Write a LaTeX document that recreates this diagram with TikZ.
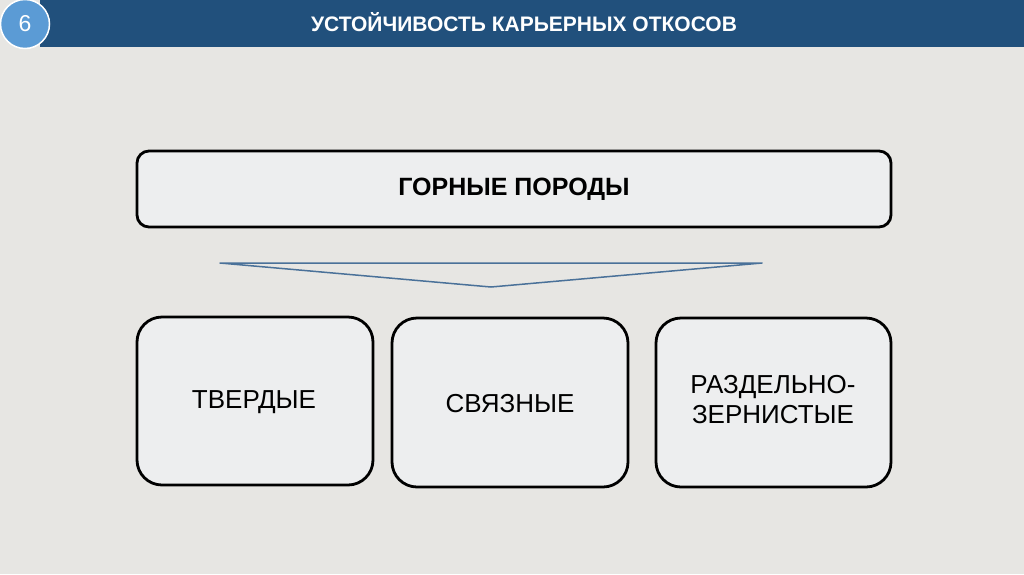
\documentclass[tikz,border=0pt]{standalone}
\usepackage{fontspec}
\setmainfont{Liberation Sans}
\definecolor{bg}{HTML}{E7E6E3}
\definecolor{hdr}{HTML}{21507C}
\definecolor{circ}{HTML}{5B9BD5}
\definecolor{boxfill}{HTML}{EDEEEF}
\definecolor{tri}{HTML}{4A7199}
\tikzset{
  rbox/.style={draw=black, line width=2.8pt, fill=boxfill, rounded corners=#1},
  lbl/.style={text=black, align=center, font=\fontsize{26}{30}\selectfont},
}
\begin{document}
\begin{tikzpicture}[x=1pt,y=-1pt]
\useasboundingbox (0,0) rectangle (1024,574);
\fill[bg] (0,0) rectangle (1024,574);
% header
\fill[hdr] (40,0) rectangle (1024,47);
\node[circle, fill=circ, draw=white, line width=1.5pt, minimum size=49pt, inner sep=0pt, text=white, font=\fontsize{23}{28}\selectfont] (num) at (25,24) {6};
\node[text=white, font=\bfseries\fontsize{21}{24}\selectfont] (title) at (524,22) {УСТОЙЧИВОСТЬ КАРЬЕРНЫХ ОТКОСОВ};
% top box
\draw[rbox=12pt] (137,151) rectangle (891,227);
\node[font=\bfseries\fontsize{25}{28}\selectfont] (top) at (514,189) {ГОРНЫЕ ПОРОДЫ};
% triangle
\coordinate (tl) at (220,263);
\coordinate (tr) at (762,263);
\coordinate (tb) at (491,287);
\draw[tri, line width=1.5pt, line join=round] (tl) -- (tr) -- (tb) -- cycle;
% bottom boxes
\draw[rbox=25pt] (137,317) rectangle (373,485);
\draw[rbox=25pt] (392,318) rectangle (628,487);
\draw[rbox=25pt] (656,318) rectangle (891,487);
\node[lbl] (b1) at (254,402) {ТВЕРДЫЕ};
\node[lbl] (b2) at (510,404) {СВЯЗНЫЕ};
\node[lbl] (b3) at (773,400) {РАЗДЕЛЬНО-\\ЗЕРНИСТЫЕ};
\end{tikzpicture}
\end{document}
